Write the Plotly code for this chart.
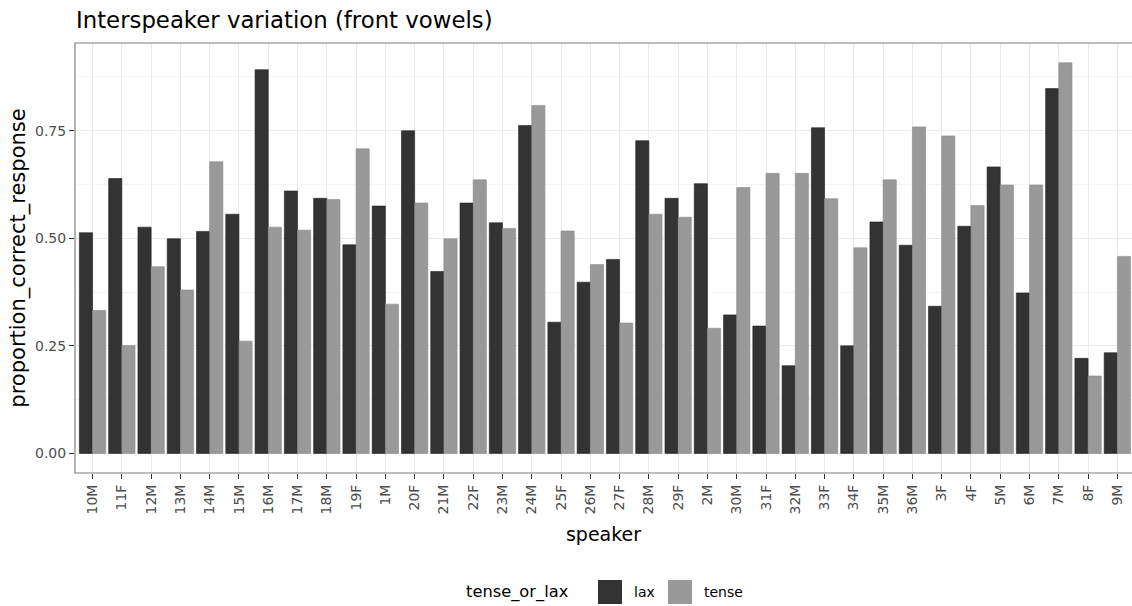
import plotly.graph_objects as go

speakers = ["10M", "11F", "12M", "13M", "14M", "15M", "16M", "17M", "18M", "19F",
            "1M", "20F", "21M", "22F", "23M", "24M", "25F", "26M", "27F", "28M",
            "29F", "2M", "30M", "31F", "32M", "33F", "34F", "35M", "36M", "3F",
            "4F", "5M", "6M", "7M", "8F", "9M"]
lax = [0.513, 0.639, 0.526, 0.499, 0.516, 0.556, 0.892, 0.610, 0.593, 0.485,
       0.575, 0.750, 0.423, 0.582, 0.536, 0.762, 0.305, 0.398, 0.451, 0.727,
       0.593, 0.627, 0.322, 0.296, 0.204, 0.757, 0.250, 0.538, 0.484, 0.342,
       0.528, 0.666, 0.373, 0.848, 0.221, 0.234]
tense = [0.332, 0.251, 0.434, 0.380, 0.678, 0.261, 0.526, 0.519, 0.590, 0.708,
         0.347, 0.582, 0.499, 0.636, 0.523, 0.809, 0.517, 0.439, 0.303, 0.556,
         0.549, 0.291, 0.618, 0.651, 0.651, 0.592, 0.478, 0.636, 0.759, 0.738,
         0.576, 0.624, 0.624, 0.908, 0.180, 0.458]
y_ticks = [0, 0.25, 0.5, 0.75]
y_ticktext = ["0.00", "0.25", "0.50", "0.75"]

LAX_COLOR = "#333333"
TENSE_COLOR = "#999999"
FONT = "DejaVu Sans"

W, H = 1132, 606
ML, MR, MT, MB = 75, 0, 43, 606 - 473
PW, PH = W - ML - MR, H - MT - MB


def px_x(p):  # screen px -> paper x
    return (p - ML) / PW


def px_y(p):  # screen px -> paper y
    return (H - MB - p) / PH


fig = go.Figure()
fig.add_trace(go.Bar(x=speakers, y=lax, name="lax",
                     marker=dict(color=LAX_COLOR, line=dict(width=0.6, color="#222222")), showlegend=False))
fig.add_trace(go.Bar(x=speakers, y=tense, name="tense",
                     marker=dict(color=TENSE_COLOR, line=dict(width=0.6, color="#8a8a8a")), showlegend=False))

fig.update_layout(
    width=W, height=H,
    margin=dict(l=ML, r=MR, t=MT, b=MB),
    paper_bgcolor="white", plot_bgcolor="white",
    barmode="group", bargap=0.1, bargroupgap=0,
    font=dict(family=FONT, color="black"),
    title=dict(text="Interspeaker variation (front vowels)", x=76 / W, xanchor="left",
               xref="container", y=1 - 20 / H, yanchor="middle", yref="container",
               font=dict(size=22.8, color="black", family=FONT)),
)
fig.update_xaxes(
    type="category", categoryorder="array", categoryarray=speakers,
    range=[-0.6, 35.5], automargin=False,
    showgrid=True, gridcolor="#EBEBEB", gridwidth=1,
    ticks="outside", ticklen=5, tickcolor="#333333",
    tickangle=-90, tickfont=dict(size=14, color="#4D4D4D"),
    title=dict(text="speaker", font=dict(size=19, color="black"), standoff=14),
    showline=False, zeroline=False,
)
fig.update_yaxes(
    range=[-0.0455, 0.954], automargin=False,
    tickvals=y_ticks, ticktext=y_ticktext,
    showgrid=True, gridcolor="#EBEBEB", gridwidth=1,
    minor=dict(tickvals=[0.125, 0.375, 0.625, 0.875], showgrid=True, gridcolor="#F5F5F5", gridwidth=0.6),
    ticks="outside", ticklen=5, tickcolor="#333333",
    tickfont=dict(size=14, color="#4D4D4D"),
    title=dict(text="proportion_correct_response", font=dict(size=21, color="black"), standoff=3),
    zeroline=False, showline=False,
)

# panel border (right side is cropped in the reference)
fig.add_shape(type="rect", xref="paper", yref="paper", x0=0, x1=1.02, y0=0, y1=1,
              line=dict(color="#7F7F7F", width=1.2), fillcolor="rgba(0,0,0,0)", layer="above")

# custom legend (key squares + labels)
legend_y = 592
fig.add_annotation(text="tense_or_lax", xref="paper", yref="paper", x=px_x(571), y=px_y(legend_y),
                   xanchor="right", yanchor="middle", showarrow=False, font=dict(size=16.3, color="black"))
for i, (lbl, col) in enumerate([("lax", LAX_COLOR), ("tense", TENSE_COLOR)]):
    x0 = 598 + i * 70
    fig.add_shape(type="rect", xref="paper", yref="paper",
                  x0=px_x(x0), x1=px_x(x0 + 24),
                  y0=px_y(legend_y + 12), y1=px_y(legend_y - 12),
                  fillcolor=col, line=dict(color="#ffffff", width=0))
    fig.add_annotation(text=lbl, xref="paper", yref="paper", x=px_x(x0 + 34),
                       y=px_y(legend_y), xanchor="left", yanchor="middle",
                       showarrow=False, font=dict(size=14, color="black"))

fig.write_html(
    "out.html",
    config={"displayModeBar": False},
    post_script="document.body.style.margin='0';document.body.style.overflow='hidden';",
)
